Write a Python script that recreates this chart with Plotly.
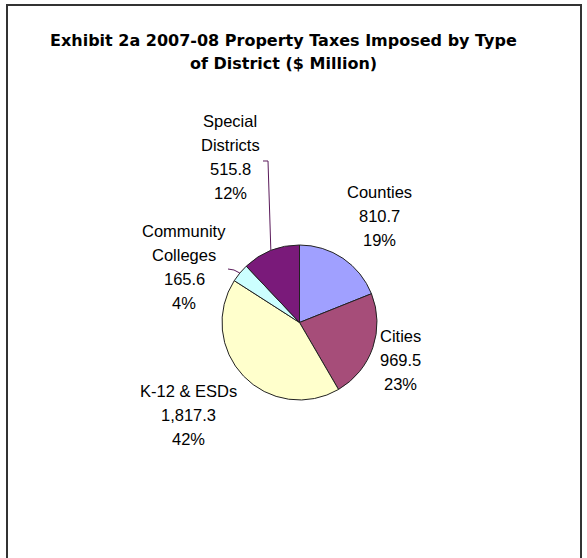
import math
import plotly.graph_objects as go

# ---- data ----
categories = ["Counties", "Cities", "K-12 & ESDs", "Community Colleges", "Special Districts"]
label_lines = [["Counties"], ["Cities"], ["K-12 & ESDs"], ["Community", "Colleges"], ["Special", "Districts"]]
values = [810.7, 969.5, 1817.3, 165.6, 515.8]
colors = ["#A0A0FF", "#A64D79", "#FFFFCC", "#CCFFFF", "#7A1A7A"]
title_lines = ["Exhibit 2a 2007-08 Property Taxes Imposed by Type", "of District ($ Million)"]

# ---- layout (pixels) ----
W, H = 587, 558
cx, cy, r = 299.5, 322.5, 77.5
label_pos = [(380, 192), (400, 336), (189, 391), (184, 231), (230, 121)]
line_gap = 24
leader_start = {4: [(263, 161), (268, 161)], 3: [(228, 269), (234, 270)]}


def px(x):
    return x / W


def py(y):
    return 1 - y / H


fig = go.Figure()
fig.add_trace(go.Pie(
    labels=categories, values=values, sort=False, direction="clockwise", rotation=0,
    textinfo="none", hoverinfo="label+value+percent",
    marker=dict(colors=colors, line=dict(color="#222222", width=1)),
    domain=dict(x=[px(cx - r), px(cx + r)], y=[py(cy + r), py(cy - r)]),
    showlegend=False,
))

total = sum(values)
annotations = []
for t, yy in zip(title_lines, [40, 63]):
    annotations.append(dict(text="<b>%s</b>" % t, x=px(283), y=py(yy), xref="paper", yref="paper",
                            xanchor="center", yanchor="middle", showarrow=False,
                            font=dict(family="DejaVu Sans", size=16, color="black")))

for i, (lines, v) in enumerate(zip(label_lines, values)):
    pct = round(v / total * 100)
    txt = lines + ["{:,.1f}".format(v), "%d%%" % pct]
    x0, y0 = label_pos[i]
    for k, t in enumerate(txt):
        annotations.append(dict(text=t, x=px(x0), y=py(y0 + k * line_gap), xref="paper", yref="paper",
                                xanchor="center", yanchor="middle", showarrow=False,
                                font=dict(family="Liberation Sans", size=16.5, color="black")))

shapes = []
# frame
shapes.append(dict(type="rect", xref="paper", yref="paper", x0=px(7), x1=px(581), y0=py(5), y1=py(600),
                   line=dict(color="#333333", width=2), fillcolor="rgba(0,0,0,0)"))

# leader lines to slice mid-angles
cum = 0
for i, v in enumerate(values):
    mid = (cum + v / 2) / total
    cum += v
    if i in leader_start:
        ang = 2 * math.pi * mid
        ex, ey = cx + r * math.sin(ang), cy - r * math.cos(ang)
        pts = leader_start[i] + [(ex, ey)]
        path = "M " + " L ".join("%f,%f" % (px(a), py(b)) for a, b in pts)
        shapes.append(dict(type="path", xref="paper", yref="paper", path=path,
                           line=dict(color="#5A1A5A", width=1)))

fig.update_layout(width=W, height=H, margin=dict(l=0, r=0, t=0, b=0),
                  paper_bgcolor="white", plot_bgcolor="white",
                  annotations=annotations, shapes=shapes)
fig.write_html("out.html")
